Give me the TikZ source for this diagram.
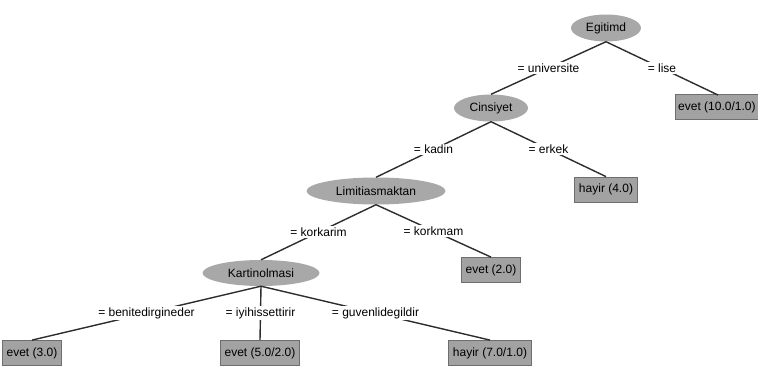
\documentclass[tikz,border=0pt]{standalone}
\usepackage{fontspec}
\setmainfont{Liberation Sans}
\tikzset{font={\fontsize{12pt}{14}\selectfont}}
\usetikzlibrary{
	calc,
	shapes,
	positioning
	}
\definecolor{attrgray}{RGB}{168,168,168}
\definecolor{leafgray}{RGB}{162,162,162}
\definecolor{leafedge}{RGB}{110,110,110}
\definecolor{edgegray}{RGB}{45,45,45}
\tikzstyle{attr-std}=[ellipse,fill=attrgray,inner sep=0pt,minimum height=27pt]
\tikzstyle{leaf-std}=[rectangle,fill=leafgray,draw=leafedge,line width=0.8pt,inner xsep=4.5pt,inner ysep=0pt,minimum height=25pt]
\tikzstyle{val-std}=[fill=white,inner sep=1.5pt]
\tikzstyle{arc-std}=[draw=edgegray,line width=1.4pt]
\newcommand{\branch}[3]{\path[arc-std] (#1.south) -- (#2.north) node[val-std,pos=0.5] {#3};}

\begin{document}
\begin{tikzpicture}[x=1pt,y=-1pt]
            \useasboundingbox (0,0) rectangle (758,380);
            % attributes
            \node[attr-std, minimum width=70pt] (egitim) at (606,28) {Egitimd};
            \node[attr-std, minimum width=74pt] (cinsiyet) at (491,108) {Cinsiyet};
            \node[attr-std, minimum width=139pt] (limit) at (376,191) {Limitiasmaktan};
            \node[attr-std, minimum width=117pt, minimum height=26pt] (kartin) at (261,273) {Kartinolmasi};
            %
            % leaves
            \node[leaf-std, anchor=east, inner xsep=3pt] (l-lise) at (759,107) {evet (10.0/1.0)};
            \coordinate (l-lise-top) at (718,95);
            \node[leaf-std] (l-erkek) at (606,189.5) {hayir (4.0)};
            \node[leaf-std] (l-korkmam) at (491,270) {evet (2.0)};
            \node[leaf-std] (l-beni) at (32,353) {evet (3.0)};
            \node[leaf-std] (l-iyi) at (260,353) {evet (5.0/2.0)};
            \node[leaf-std] (l-guven) at (490,353) {hayir (7.0/1.0)};
            %
            \branch{egitim}{cinsiyet}{= universite}
            \path[arc-std] (egitim.south) -- (l-lise-top) node[val-std,pos=0.5] {= lise};

            \branch{cinsiyet}{limit}{= kadin}
            \branch{cinsiyet}{l-erkek}{= erkek}

            \branch{limit}{kartin}{= korkarim}
            \branch{limit}{l-korkmam}{= korkmam}

            \branch{kartin}{l-beni}{= benitedirgineder}
            \branch{kartin}{l-iyi}{= iyihissettirir}
            \branch{kartin}{l-guven}{= guvenlidegildir}
        \end{tikzpicture}
\end{document}
